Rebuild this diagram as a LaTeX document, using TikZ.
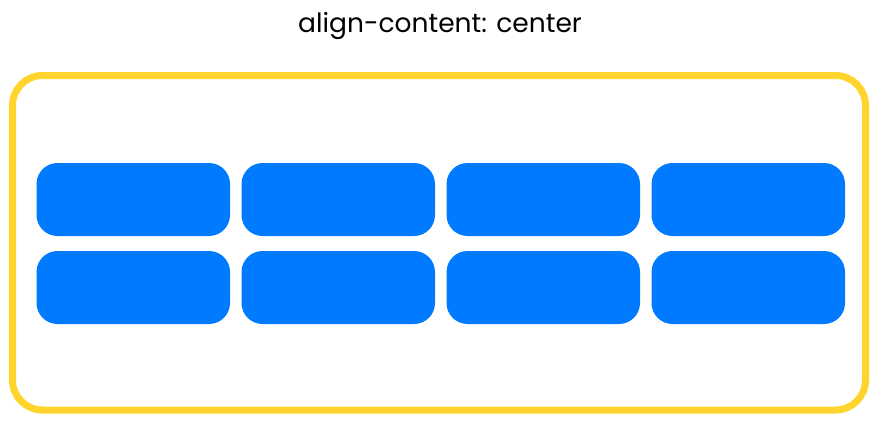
\documentclass[tikz,border=0pt]{standalone}
\usepackage{fontspec}
\setmainfont{Poppins}
\definecolor{frameyellow}{RGB}{255,212,45}
\definecolor{itemblue}{RGB}{0,122,255}
\begin{document}
\begin{tikzpicture}[x=1pt,y=-1pt,
  item/.style={fill=itemblue,rounded corners=21pt},
  container/.style={draw=frameyellow,line width=7pt,rounded corners=30pt}]
\useasboundingbox (0,0) rectangle (878,421);
\node[font=\fontsize{26.5}{30}\selectfont,anchor=base,inner sep=0pt] (title) at (440,32) {align-content: center};
\draw[container] (12.5,75.5) rectangle (865.5,410);
\foreach \c in {0,1,2,3}{
  \foreach \r in {0,1}{
    \path[item] ({36.5+205*\c},{163+88*\r}) rectangle ({230+205*\c},{236+88*\r});
  }
}
\end{tikzpicture}
\end{document}
